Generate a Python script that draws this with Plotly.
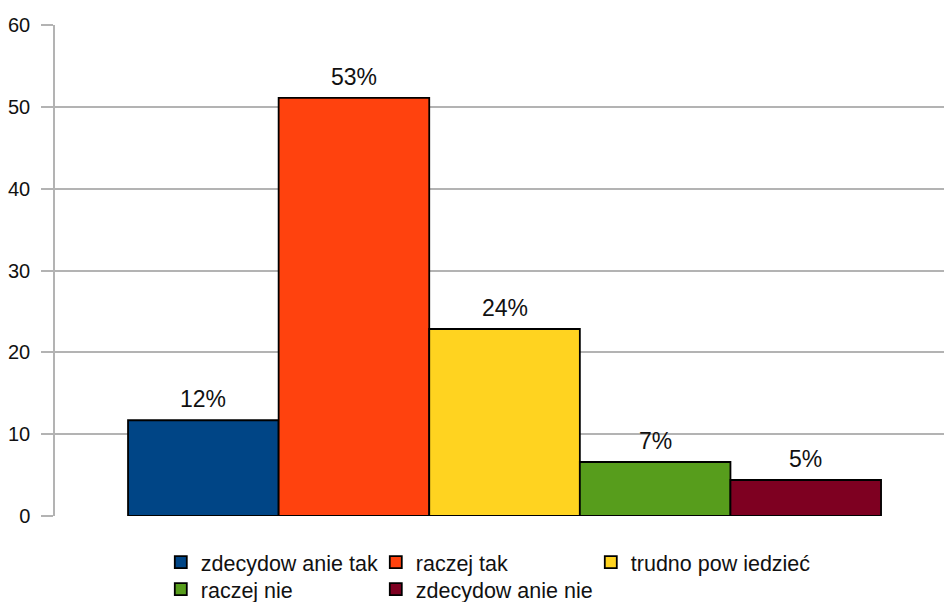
import plotly.graph_objects as go

categories = ["zdecydow anie tak", "raczej tak", "trudno pow iedzieć", "raczej nie", "zdecydow anie nie"]
values = [11.7, 51.1, 22.85, 6.6, 4.4]
labels = ["12%", "53%", "24%", "7%", "5%"]
colors = ["#004586", "#ff420e", "#ffd320", "#579d1c", "#7e0021"]
legend_ids = ["legend", "legend", "legend", "legend2", "legend2"]
legend_widths = [170, 170, 240, 170, 240]
y_ticks = [0, 10, 20, 30, 40, 50, 60]

FONT = "Liberation Sans, Arial, sans-serif"
GRID = "#b3b3b3"

fig = go.Figure()
for cat, val, lab, col, lg, lw in zip(categories, values, labels, colors, legend_ids, legend_widths):
    fig.add_trace(go.Bar(
        x=[cat], y=[val], name=cat, width=1,
        marker=dict(color=col, line=dict(color="black", width=1.8)),
        legend=lg, legendwidth=lw, hoverinfo="x+y",
    ))
    fig.add_annotation(x=cat, y=val, text=lab, showarrow=False, yanchor="bottom",
                       yshift=6, font=dict(size=23, color="#111111", family=FONT))

fig.update_layout(
    width=944, height=602,
    barmode="overlay",
    paper_bgcolor="white", plot_bgcolor="white",
    margin=dict(l=55, r=0, t=25, b=86, autoexpand=False),
    font=dict(family=FONT, color="#111111"),
    xaxis=dict(type="category", range=[-0.985, 4.918], showgrid=False, zeroline=False,
               showticklabels=False, showline=False, ticks=""),
    yaxis=dict(range=[0, 60], tickvals=y_ticks, showgrid=True, gridcolor=GRID, gridwidth=1.5,
               zeroline=False, showline=True, linecolor=GRID, linewidth=1.5,
               ticks="outside", ticklen=12, tickcolor=GRID, tickwidth=1.5,
               ticklabelstandoff=7, tickfont=dict(size=20, color="#111111", family=FONT)),
    legend=dict(orientation="h", x=0.119, xanchor="left", y=-0.094, yanchor="middle",
                entrywidth=170, entrywidthmode="pixels",
                font=dict(size=21.5, family=FONT, color="#111111"), bgcolor="rgba(0,0,0,0)"),
    legend2=dict(orientation="h", x=0.119, xanchor="left", y=-0.149, yanchor="middle",
                 entrywidth=170, entrywidthmode="pixels",
                 font=dict(size=21.5, family=FONT, color="#111111"), bgcolor="rgba(0,0,0,0)"),
    showlegend=True,
)

fig.add_shape(type="line", xref="paper", yref="y", x0=0, x1=0, y0=-1.1, y1=0,
              line=dict(color=GRID, width=1.5))

fig.write_html("out.html", config={"displayModeBar": False},
               post_script="document.body.style.margin='0px';document.body.style.overflow='hidden';")
